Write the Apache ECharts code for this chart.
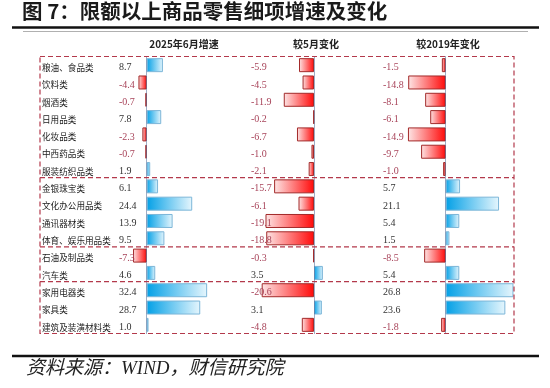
<!DOCTYPE html>
<html>
<head>
<meta charset="utf-8">
<script src="https://cdn.jsdelivr.net/npm/echarts@6/dist/echarts.min.js"></script>
<style>html,body{margin:0;padding:0;background:#fff}#c{width:550px;height:388px}</style>
</head>
<body>
<div id="c"></div>
<script>
const categories = ['粮油、食品类','饮料类','烟酒类','日用品类','化妆品类','中西药品类','服装纺织品类','金银珠宝类','文化办公用品类','通讯器材类','体育、娱乐用品类','石油及制品类','汽车类','家用电器类','家具类','建筑及装潢材料类'];
const growthJun2025 = [8.7, -4.4, -0.7, 7.8, -2.3, -0.7, 1.9, 6.1, 24.4, 13.9, 9.5, -7.3, 4.6, 32.4, 28.7, 1.0];
const changeVsMay = [-5.9, -4.5, -11.9, -0.2, -6.7, -1.0, -2.1, -15.7, -6.1, -19.1, -18.8, -0.3, 3.5, -20.6, 3.1, -4.8];
const changeVs2019 = [-1.5, -14.8, -8.1, -6.1, -14.9, -9.7, -1.0, 5.7, 21.1, 5.4, 1.5, -8.5, 5.4, 26.8, 23.6, -1.8];
const columnTitles = ['2025年6月增速', '较5月变化', '较2019年变化'];
const groupEnds = [7, 11, 13];

const chart = echarts.init(document.getElementById('c'));
const TOP = 56.5, H = 277, ROW = H / categories.length;
const BOX_L = 40, BOX_R = 514;
const numFont = 'Liberation Serif';
const cjkFont = 'Noto Sans CJK SC';

const blueGrad = new echarts.graphic.LinearGradient(0, 0, 1, 0, [{offset: 0, color: '#03a0e6'}, {offset: 1, color: '#e6f6fd'}]);
const redGrad = new echarts.graphic.LinearGradient(0, 0, 1, 0, [{offset: 0, color: '#fde6e6'}, {offset: 1, color: '#ff0a0a'}]);

function barData(arr) {
  return arr.map(v => ({
    value: v,
    itemStyle: v >= 0
      ? {color: blueGrad, borderColor: '#7db6d8', borderWidth: 1}
      : {color: redGrad, borderColor: '#a32a2a', borderWidth: 1}
  }));
}
function valRich() {
  return {
    p: {color: '#333', fontFamily: numFont, fontSize: 10, padding: [5, 0, 0, 0]},
    m: {color: '#a8445a', fontFamily: numFont, fontSize: 10, padding: [5, 0, 0, 0]},
    n: {color: '#222', fontFamily: cjkFont, fontSize: 8.6, width: 77, padding: [5, 0, 0, 0]}
  };
}
function valTag(v) { return '{' + (v < 0 ? 'm' : 'p') + '|' + v.toFixed(1) + '}'; }

const grids = [
  {left: 128, width: 84, min: -10, max: 35, labelX: 42},
  {left: 250.5, width: 35 * 2.54, min: -25, max: 10, labelX: 251},
  {left: 382.4, width: 55 * 2.53, min: -25, max: 30, labelX: 383}
];
const seriesData = [growthJun2025, changeVsMay, changeVs2019];

const option = {
  animation: false,
  grid: grids.map(g => ({left: g.left, width: g.width, top: TOP, height: H, containLabel: false})),
  xAxis: grids.map((g, i) => ({
    type: 'value', gridIndex: i, min: g.min, max: g.max,
    show: false, splitLine: {show: false}
  })),
  yAxis: grids.map((g, i) => ({
    type: 'category', gridIndex: i, data: categories, inverse: true, z: 6,
    axisLine: {show: false}, axisTick: {show: false}, splitLine: {show: false},
    axisLabel: {
      show: true, align: 'left', margin: g.left - g.labelX, interval: 0,
      rich: valRich(),
      formatter: (val, idx) => (i === 0 ? '{n|' + val + '}' : '') + valTag(seriesData[i][idx])
    }
  })),
  series: seriesData.map((arr, i) => ({
    type: 'bar', xAxisIndex: i, yAxisIndex: i, data: barData(arr), barWidth: 14,
    markLine: {
      silent: true, symbol: ['none', 'none'], label: {show: false},
      lineStyle: {type: 'dotted', color: '#3d5a8a', width: 1},
      data: [{xAxis: 0}]
    }
  })),
  graphic: [
    {type: 'text', left: 22, top: 1, style: {text: '图 7：限额以上商品零售细项增速及变化', font: 'bold 20.5px "Noto Sans CJK SC"', fill: '#1a1a1a'}},
    {type: 'line', shape: {x1: 12, y1: 27.5, x2: 539, y2: 27.5}, style: {stroke: '#111', lineWidth: 2.5}},
    {type: 'line', shape: {x1: 23, y1: 31.5, x2: 528, y2: 31.5}, style: {stroke: '#b0b0b0', lineWidth: 1.2}},
    {type: 'text', x: 184, y: 44, style: {text: columnTitles[0], font: 'bold 10px "Noto Sans CJK SC"', fill: '#222', textAlign: 'center', textVerticalAlign: 'middle'}},
    {type: 'text', x: 316, y: 44, style: {text: columnTitles[1], font: 'bold 10px "Noto Sans CJK SC"', fill: '#222', textAlign: 'center', textVerticalAlign: 'middle'}},
    {type: 'text', x: 448, y: 44, style: {text: columnTitles[2], font: 'bold 10px "Noto Sans CJK SC"', fill: '#222', textAlign: 'center', textVerticalAlign: 'middle'}},
    {type: 'rect', z: 10, shape: {x: BOX_L, y: TOP, width: BOX_R - BOX_L, height: H}, style: {fill: 'none', stroke: '#b3394b', lineWidth: 1.2, lineDash: [5, 3]}},
    ...groupEnds.map(k => ({type: 'line', z: 10, shape: {x1: BOX_L, y1: TOP + ROW * k, x2: BOX_R, y2: TOP + ROW * k}, style: {stroke: '#b3394b', lineWidth: 1.2, lineDash: [5, 3]}})),
    {type: 'line', shape: {x1: 12, y1: 356, x2: 539, y2: 356}, style: {stroke: '#111', lineWidth: 2.5}},
    {type: 'text', left: 26, top: 359, style: {text: '资料来源：WIND，财信研究院', font: 'italic 19px "Liberation Serif", "Noto Sans CJK SC"', fill: '#222'}}
  ]
};
chart.setOption(option);
</script>
</body>
</html>
